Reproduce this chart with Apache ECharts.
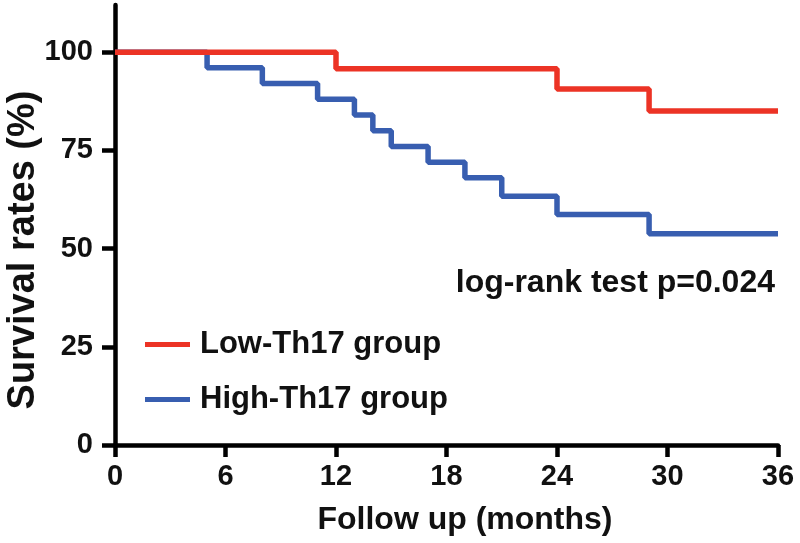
<!DOCTYPE html>
<html>
<head>
<meta charset="utf-8">
<script src="https://cdn.jsdelivr.net/npm/echarts@6/dist/echarts.min.js"></script>
<style>html,body{margin:0;padding:0;background:#fff}#c{width:800px;height:543px}</style>
</head>
<body>
<div id="c"></div>
<script>
// Kaplan-Meier step data: [month, survival %]
const lowMonths = [0, 12, 24, 29, 36];
const lowSurvival = [100, 95.8, 90.6, 85.0, 85.0];
const highMonths = [0, 5, 8, 11, 13, 14, 15, 17, 19, 21, 24, 29, 36];
const highSurvival = [100, 96, 92, 88, 84, 80, 76, 72, 68, 63.3, 58.7, 53.8, 53.8];
const xTicks = [0, 6, 12, 18, 24, 30, 36];
const yTicks = [0, 25, 50, 75, 100];
const seriesNames = ['Low-Th17 group', 'High-Th17 group'];
const pText = 'log-rank test p=0.024';

const FONT = '"Liberation Sans", Arial, sans-serif';
const chart = echarts.init(document.getElementById('c'), null, {renderer: 'canvas'});
const zip = (a, b) => a.map((v, i) => [v, b[i]]);
chart.setOption({
  animation: false,
  backgroundColor: '#fff',
  grid: {left: 115, right: 22, top: 5, bottom: 98, containLabel: false, outerBoundsMode: 'none'},
  xAxis: {
    type: 'value', min: 0, max: 36, interval: 6,
    name: 'Follow up (months)', nameLocation: 'middle', nameGap: 59, nameMoveOverlap: false,
    nameTextStyle: {fontFamily: FONT, fontWeight: 'bold', fontSize: 32, color: '#111', padding: [0, 0, 0, 37]},
    axisLine: {show: true, onZero: false, lineStyle: {color: '#000', width: 4.5}},
    axisTick: {show: true, length: 12, lineStyle: {color: '#000', width: 4.5}, customValues: xTicks},
    axisLabel: {fontFamily: FONT, fontWeight: 'bold', fontSize: 29, color: '#111', margin: 17, customValues: xTicks},
    splitLine: {show: false}
  },
  yAxis: {
    type: 'value', min: 0, max: 112,
    name: 'Survival rates (%)', nameLocation: 'middle', nameGap: 72, nameRotate: 90, nameMoveOverlap: false,
    nameTextStyle: {fontFamily: FONT, fontWeight: 'bold', fontSize: 38, color: '#111', padding: [0, 50, 0, 0]},
    axisLine: {show: true, onZero: false, lineStyle: {color: '#000', width: 4.5}},
    axisTick: {show: true, length: 13, lineStyle: {color: '#000', width: 4.5}, customValues: yTicks},
    axisLabel: {fontFamily: FONT, fontWeight: 'bold', fontSize: 29, color: '#111', margin: 22, customValues: yTicks},
    splitLine: {show: false}
  },
  legend: {
    orient: 'vertical', left: 140, top: 324, itemWidth: 45, itemHeight: 5, itemGap: 24,
    icon: 'rect',
    textStyle: {fontFamily: FONT, fontWeight: 'bold', fontSize: 31, color: '#111', lineHeight: 31, padding: [0, 0, 0, 5]},
    data: seriesNames
  },
  graphic: [{
    type: 'text', right: 25, top: 267,
    style: {text: pText, fontFamily: FONT, fontWeight: 'bold', fontSize: 32, fill: '#111'}
  }],
  series: [
    {name: seriesNames[0], type: 'line', step: 'end', showSymbol: false, symbol: 'none',
     data: zip(lowMonths, lowSurvival), z: 3,
     lineStyle: {color: '#ec3325', width: 5.5}, itemStyle: {color: '#ec3325'}},
    {name: seriesNames[1], type: 'line', step: 'end', showSymbol: false, symbol: 'none',
     data: zip(highMonths, highSurvival), z: 2,
     lineStyle: {color: '#385eb0', width: 5.5}, itemStyle: {color: '#385eb0'}}
  ]
});
</script>
</body>
</html>
